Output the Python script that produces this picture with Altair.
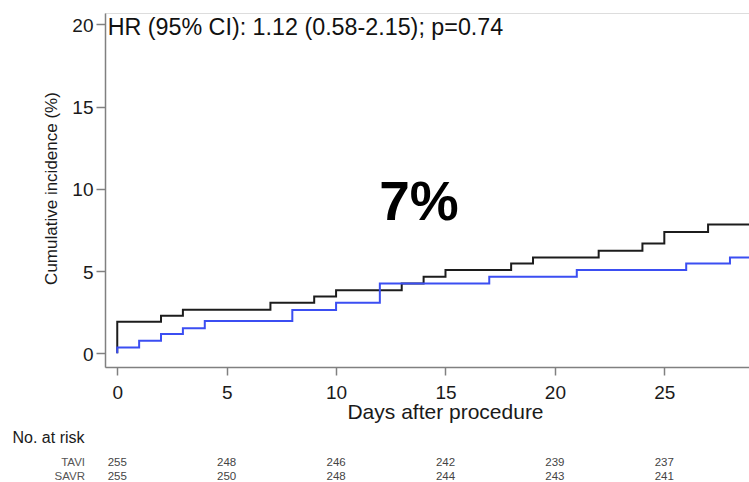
import altair as alt
import pandas as pd

# Kaplan-Meier style cumulative incidence (%)
days_tavi = [0, 0, 2, 3, 7, 9, 10, 13, 14, 15, 18, 19, 22, 24, 25, 27, 30]
inc_tavi = [0, 1.92, 2.28, 2.65, 3.07, 3.46, 3.84, 4.25, 4.65, 5.06, 5.46, 5.83, 6.23, 6.68, 7.38, 7.83, 7.83]
days_savr = [0, 0, 1, 2, 3, 4, 8, 10, 12, 17, 21, 26, 28, 30]
inc_savr = [0, 0.36, 0.77, 1.17, 1.52, 1.96, 2.63, 3.07, 4.25, 4.65, 5.06, 5.46, 5.83, 5.83]

groups = ["TAVI", "SAVR"]
line_colors = ["#1c1c1c", "#3b4ef2"]

risk_days = [0, 5, 10, 15, 20, 25]
risk_tavi = [255, 248, 246, 242, 239, 237]
risk_savr = [255, 250, 248, 244, 243, 241]

x_ticks = [0, 5, 10, 15, 20, 25]
y_ticks = [0, 5, 10, 15, 20]

hr_label = "HR (95% CI): 1.12 (0.58-2.15); p=0.74"
big_label = "7%"

FONT = "Liberation Sans"

km_rows = []
i = 0
for d, v in zip(days_tavi, inc_tavi):
    km_rows.append({"group": "TAVI", "day": d, "inc": v, "idx": i}); i += 1
for d, v in zip(days_savr, inc_savr):
    km_rows.append({"group": "SAVR", "day": d, "inc": v, "idx": i}); i += 1
km = pd.DataFrame(km_rows)

tavi_risk = pd.DataFrame({"day": risk_days, "n": [str(v) for v in risk_tavi]})
savr_risk = pd.DataFrame({"day": risk_days, "n": [str(v) for v in risk_savr]})

xscale = alt.Scale(domain=[-0.56, 28.87], nice=False, zero=False)
yscale = alt.Scale(domain=[-0.83, 20.69], nice=False, zero=False)

AX = "#808080"
xaxis = alt.Axis(
    values=x_ticks, grid=False, title="Days after procedure",
    labelFont=FONT, labelFontSize=19, labelColor="#1a1a1a", labelPadding=8,
    labelOverlap=False, labelFlush=False,
    tickSize=8, tickColor=AX, tickWidth=1.5, domainColor=AX, domainWidth=1.5,
    titleFont=FONT, titleFontSize=21, titleFontWeight="normal", titleColor="#1a1a1a",
    titleX=340, titleY=51, titleBaseline="alphabetic", titleAlign="center")
yaxis = alt.Axis(
    values=y_ticks, grid=False, title="Cumulative incidence (%)",
    labelFont=FONT, labelFontSize=19, labelColor="#1a1a1a", labelPadding=3, labelOffset=1,
    labelOverlap=False,
    tickSize=9, tickColor=AX, tickWidth=1.5, domainColor=AX, domainWidth=1.5,
    titleFont=FONT, titleFontSize=17, titleFontWeight="normal", titleColor="#1a1a1a",
    titleX=-54, titleY=175, titleBaseline="middle", titleAlign="center", titleAngle=270)
X = alt.X("day:Q", scale=xscale, axis=xaxis)
Y = alt.Y("inc:Q", scale=yscale, axis=yaxis)

lines = alt.Chart(km).mark_line(interpolate="step-after", strokeWidth=2, clip=True).encode(
    x=X, y=Y,
    color=alt.Color("group:N", scale=alt.Scale(domain=groups, range=line_colors), legend=None),
    order=alt.Order("idx:Q"),
)

hr_df = pd.DataFrame({"day": [-0.44], "inc": [19.76], "t": [hr_label]})
hr = alt.Chart(hr_df).mark_text(align="left", baseline="middle", font=FONT, fontSize=23.3,
                                color="#111111").encode(x=X, y=Y, text="t:N")

big_df = pd.DataFrame({"day": [13.79], "inc": [9.11], "t": [big_label]})
big = alt.Chart(big_df).mark_text(align="center", baseline="middle", font=FONT, fontSize=55,
                                  fontWeight="bold", color="#000000").encode(x=X, y=Y, text="t:N")

# number-at-risk table below the axis (rows placed under the plot)
ROW_Y = {"TAVI": 449.5, "SAVR": 464}
num_tavi = alt.Chart(tavi_risk).mark_text(align="center", baseline="middle", font=FONT,
                                          fontSize=11.5, color="#444444").encode(
    x=X, y=alt.value(ROW_Y["TAVI"]), text="n:N")
num_savr = alt.Chart(savr_risk).mark_text(align="center", baseline="middle", font=FONT,
                                          fontSize=11.5, color="#444444").encode(
    x=X, y=alt.value(ROW_Y["SAVR"]), text="n:N")
lab_tavi = alt.Chart(pd.DataFrame({"t": ["TAVI"]})).mark_text(
    align="right", baseline="middle", font=FONT, fontSize=11.5, color="#555555").encode(
    x=alt.value(-20), y=alt.value(ROW_Y["TAVI"]), text="t:N")
lab_savr = alt.Chart(pd.DataFrame({"t": ["SAVR"]})).mark_text(
    align="right", baseline="middle", font=FONT, fontSize=11.5, color="#555555").encode(
    x=alt.value(-20), y=alt.value(ROW_Y["SAVR"]), text="t:N")
header = alt.Chart(pd.DataFrame({"t": ["No. at risk"]})).mark_text(
    align="left", baseline="middle", font=FONT, fontSize=16, color="#1a1a1a").encode(
    x=alt.value(-92.5), y=alt.value(425), text="t:N")

chart = alt.layer(lines, hr, big, num_tavi, num_savr, lab_tavi, lab_savr, header).properties(
    width=644, height=354,
    autosize=alt.AutoSizeParams(type="none"),
    padding={"left": 105, "top": 13, "right": 0, "bottom": 115},
).configure_view(stroke=None).configure(background="white")

chart.save("out.html", embed_options={"renderer": "svg", "actions": False})
